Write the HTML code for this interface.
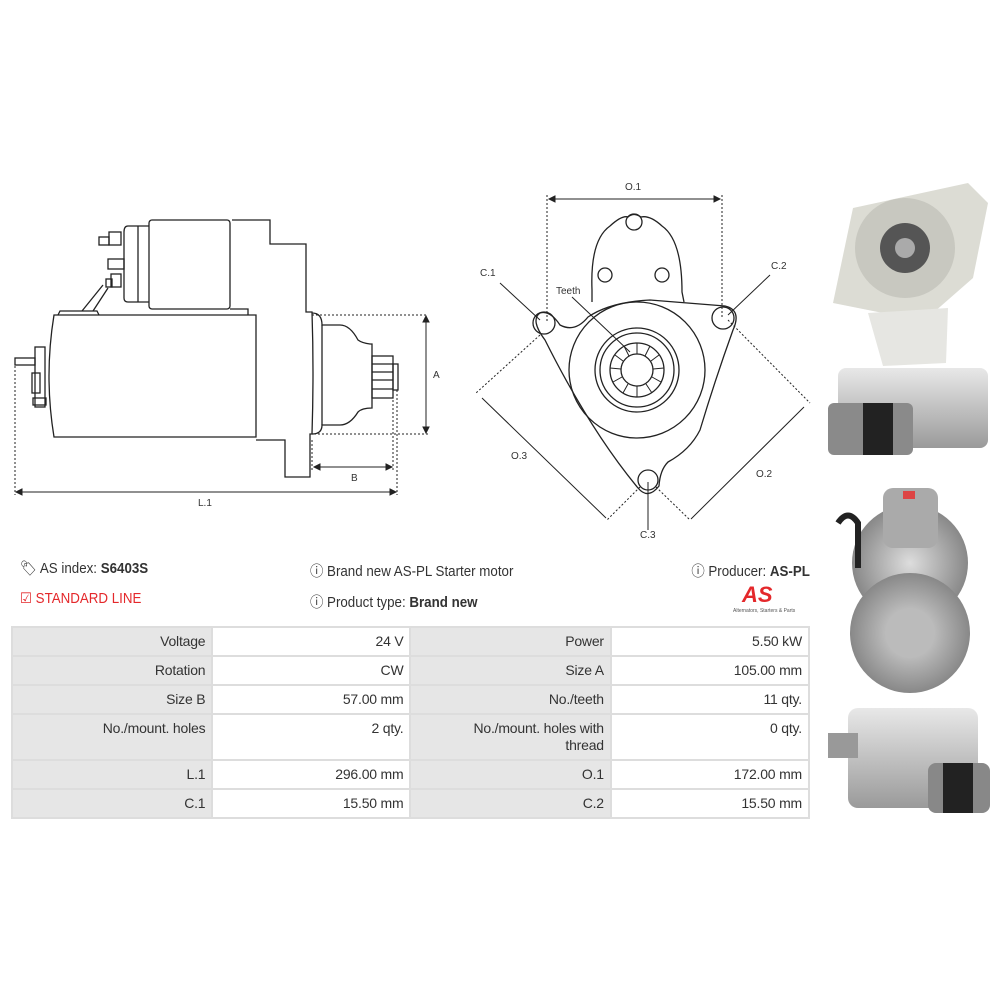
<!DOCTYPE html>
<html><head><meta charset="utf-8"><style>
body{margin:0;width:1000px;height:1000px;background:#fff;position:relative;overflow:hidden;font-family:"Liberation Sans",sans-serif;color:#333}
.t{position:absolute;font-size:14.5px;white-space:nowrap;transform:scaleX(0.92);transform-origin:left center}
table{position:absolute;left:11px;top:626px;width:799px;border-collapse:separate;border-spacing:2px;background:#ddd;font-size:14px;letter-spacing:-0.2px}
td{padding:5px 6px 5px 6px;line-height:17px;text-align:right;vertical-align:top}
td.l{background:#e6e6e6;width:188px}
td.v{background:#fff;width:186px}
</style></head><body>
<svg width="1000" height="560" style="position:absolute;left:0;top:0" fill="none" stroke="#222" stroke-width="1.3">
<path d="M54,315 L256,315 L256,437 L54,437 Q44,376 54,315Z"/>
<path d="M58,315 L60,311 L97,311 L99,315"/>
<path d="M82,311 L103,285 M93,311 L108,288"/>
<rect x="149" y="220" width="81" height="89" rx="3"/>
<path d="M149,226 L128,226 Q124,226 124,232 L124,298 Q124,302 128,302 L149,302 M138,226 L138,302"/>
<rect x="109" y="232" width="12" height="13"/><rect x="99" y="237" width="10" height="8"/>
<rect x="108" y="259" width="16" height="10"/>
<rect x="111" y="274" width="10" height="13"/><rect x="106" y="279" width="6" height="8"/>
<path d="M230,309 L248,309 L248,315"/>
<path d="M232,220 L270,220 L270,244 L306,244 L306,312 L312,312 Q314,372 312,434 L310,434 L310,477 L285,477 L285,440 L256,440"/>
<path d="M312,313 Q322,313 322,325 L340,325 Q350,325 358,340 Q362,343 370,344 L372,344 L372,408 Q362,408 358,412 Q350,425 340,425 L322,425 Q322,434 312,434"/>
<path d="M322,325 L322,425"/>
<rect x="372" y="356" width="21" height="42"/>
<path d="M372,364 L393,364 M372,372 L393,372 M372,380 L393,380 M372,389 L393,389"/>
<rect x="393" y="364" width="5" height="26"/>
<rect x="35" y="347" width="10" height="60"/>
<rect x="15" y="358" width="20" height="7"/><rect x="32" y="373" width="8" height="20"/><rect x="33" y="398" width="13" height="7"/>
<g stroke-dasharray="2,2" stroke-width="1"><path d="M15,362 L15,495 M397,390 L397,495 M393,400 L393,470 M312,315 L428,315 M314,434 L428,434 M312,440 L312,470"/></g>
<g stroke-width="1"><path d="M426,318 L426,431 M315,467 L390,467 M18,492 L394,492"/>
<path d="M423,322 L426,316 L429,322Z M423,427 L426,433 L429,427Z M320,464 L314,467 L320,470Z M386,464 L392,467 L386,470Z M22,489 L16,492 L22,495Z M390,489 L396,492 L390,495Z" fill="#222"/></g>
<path d="M592,302 L592,290 Q590,240 610,226 Q622,215 628,217 Q634,212 641,217 Q650,215 662,226 Q682,240 682,292 L684,302"/>
<circle cx="634" cy="222" r="8"/><circle cx="605" cy="275" r="7"/><circle cx="662" cy="275" r="7"/>
<path d="M560,325 Q575,333 588,317 Q610,302 650,300 L725,306 Q742,310 733,330 Q715,380 700,430 Q690,450 668,462 Q660,470 659,486 Q648,500 638,488 Q590,430 545,340 Q530,320 540,313 Q550,310 560,325Z"/>
<circle cx="544" cy="323" r="11"/><circle cx="723" cy="318" r="11"/><circle cx="648" cy="480" r="10"/>
<circle cx="637" cy="370" r="68"/><circle cx="637" cy="370" r="42"/><circle cx="637" cy="370" r="37"/>
<circle cx="637" cy="370" r="27"/><circle cx="637" cy="370" r="16"/>
<g stroke-width="1"><path d="M637,343 L637,354 M650,346 L645,356 M659,355 L651,361 M664,368 L653,369 M661,382 L652,377 M652,393 L646,384 M637,397 L637,386 M623,393 L628,384 M613,382 L622,377 M610,368 L621,369 M615,355 L623,361 M624,346 L629,356"/></g>
<g stroke-dasharray="2,2" stroke-width="1"><path d="M547,195 L547,322 M722,195 L722,318 M540,335 L476,393 M728,320 L810,403 M640,487 L607,520 M656,487 L690,520"/></g>
<g stroke-width="1"><path d="M550,199 L719,199 M482,398 L606,518 M804,407 L691,519 M500,283 L540,320 M770,275 L728,315 M572,297 L630,352 M648,530 L648,482"/>
<path d="M555,196 L549,199 L555,202Z M714,196 L720,199 L714,202Z" fill="#222"/></g>
<g fill="#333" stroke="none" font-family="Liberation Sans,sans-serif" font-size="10">
<text x="625" y="190">O.1</text><text x="480" y="276">C.1</text><text x="771" y="269">C.2</text><text x="556" y="294">Teeth</text>
<text x="511" y="459">O.3</text><text x="756" y="477">O.2</text><text x="640" y="538">C.3</text>
<text x="198" y="506">L.1</text><text x="351" y="481">B</text><text x="433" y="378">A</text></g>
</svg>
<svg width="170" height="640" style="position:absolute;left:828px;top:178px">
<defs><linearGradient id="g" x1="0" x2="0" y1="0" y2="1"><stop offset="0" stop-color="#e8e8e8"/><stop offset="1" stop-color="#9a9a9a"/></linearGradient>
<radialGradient id="r"><stop offset="0" stop-color="#ddd"/><stop offset="1" stop-color="#888"/></radialGradient></defs>
<path d="M5,125 L25,30 L140,5 L160,25 L145,100 L105,135 L55,135Z" fill="#dcdcd4"/>
<circle cx="77" cy="70" r="50" fill="#c8c8c0"/><circle cx="77" cy="70" r="25" fill="#555"/><circle cx="77" cy="70" r="10" fill="#aaa"/>
<path d="M40,135 L120,130 L118,185 L55,188Z" fill="#e6e6e2"/>
<rect x="10" y="190" width="150" height="80" rx="8" fill="url(#g)"/>
<rect x="0" y="225" width="85" height="52" rx="6" fill="#8a8a8a"/><rect x="35" y="225" width="30" height="52" fill="#222"/>
<circle cx="82" cy="385" r="58" fill="url(#r)"/><circle cx="82" cy="455" r="60" fill="url(#r)"/>
<circle cx="82" cy="455" r="25" fill="#bbb"/><rect x="55" y="310" width="55" height="60" rx="10" fill="#aaa"/>
<rect x="75" y="313" width="12" height="8" fill="#d44"/><path d="M10,345 Q20,330 30,345 L30,390" stroke="#222" stroke-width="6" fill="none"/>
<rect x="20" y="530" width="130" height="100" rx="10" fill="url(#g)"/><rect x="0" y="555" width="30" height="25" fill="#999"/>
<rect x="100" y="585" width="62" height="50" rx="8" fill="#888"/><rect x="115" y="585" width="30" height="50" fill="#222"/>
</svg>
<div class="t" style="left:20px;top:560px">&#x1F3F7;&#xFE0E; AS index: <b>S6403S</b></div>
<div class="t" style="left:20px;top:591px;color:#e4282b">&#9745; STANDARD LINE</div>
<div class="t" style="left:310px;top:560px">&#9432; Brand new AS-PL Starter motor</div>
<div class="t" style="left:310px;top:591px">&#9432; Product type: <b>Brand new</b></div>
<div class="t" style="right:190px;top:560px;transform-origin:right center">&#9432; Producer: <b>AS-PL</b></div>
<div style="position:absolute;left:742px;top:582px;color:#e4282b;font:italic bold 22px 'Liberation Sans',sans-serif">AS</div>
<div style="position:absolute;left:733px;top:608px;font-size:5px;color:#555">Alternators, Starters &amp; Parts</div>
<table>
<tr><td class="l">Voltage</td><td class="v">24 V</td><td class="l">Power</td><td class="v">5.50 kW</td></tr>
<tr><td class="l">Rotation</td><td class="v">CW</td><td class="l">Size A</td><td class="v">105.00 mm</td></tr>
<tr><td class="l">Size B</td><td class="v">57.00 mm</td><td class="l">No./teeth</td><td class="v">11 qty.</td></tr>
<tr><td class="l">No./mount. holes</td><td class="v">2 qty.</td><td class="l">No./mount. holes with<br>thread</td><td class="v">0 qty.</td></tr>
<tr><td class="l">L.1</td><td class="v">296.00 mm</td><td class="l">O.1</td><td class="v">172.00 mm</td></tr>
<tr><td class="l">C.1</td><td class="v">15.50 mm</td><td class="l">C.2</td><td class="v">15.50 mm</td></tr>
</table>
</body></html>
